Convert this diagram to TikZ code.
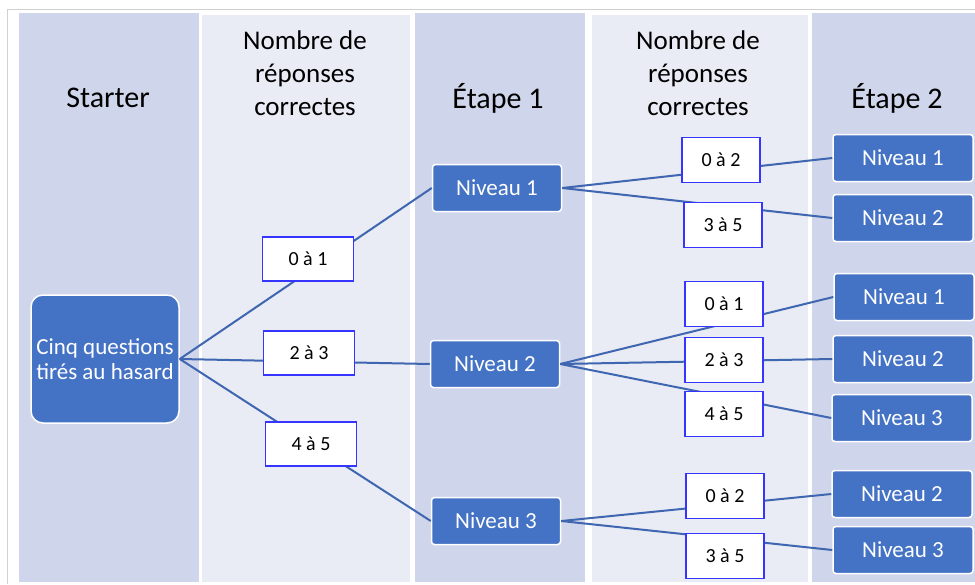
\documentclass[tikz,border=0pt]{standalone}
\usepackage{fontspec}
\setmainfont{Carlito}
\usetikzlibrary{positioning}
\definecolor{colDark}{HTML}{CFD5EA}
\definecolor{colLight}{HTML}{E9EBF5}
\definecolor{niveauBlue}{HTML}{4472C4}
\definecolor{lineBlue}{HTML}{3F66B1}
\definecolor{scoreBlue}{HTML}{3535FF}
\definecolor{frameGrey}{HTML}{D0D0D0}

\begin{document}
\begin{tikzpicture}[x=1pt,y=-1pt]
\tikzstyle{header}=[align=center, font=\fontsize{27}{33}\selectfont]
\tikzstyle{title}=[font=\fontsize{30}{36}\selectfont]
\tikzstyle{start}=[rectangle, rounded corners=12pt, fill=niveauBlue, draw=white, line width=1.5pt, text=white, align=center, minimum width=148pt, minimum height=128pt, inner sep=0pt, font=\fontsize{23}{25}\selectfont]
\tikzstyle{niveau}=[rectangle, rounded corners=3pt, fill=niveauBlue, draw=white, line width=1.5pt, text=white, minimum width=140pt, minimum height=47pt, inner sep=0pt, font=\fontsize{23}{25}\selectfont]
\tikzstyle{score}=[rectangle, fill=white, draw=scoreBlue, line width=1.5pt, minimum width=78pt, minimum height=45pt, inner sep=0pt, font=\fontsize{20}{22}\selectfont]
\tikzstyle{connect}=[lineBlue, line width=2pt]
  \useasboundingbox (0,0) rectangle (975,584);
  \fill[white] (0,0) rectangle (975,584);
  \draw[frameGrey, line width=1pt] (7.5,584) -- (7.5,9.5) -- (975,9.5);
  \fill[colDark] (19,13) rectangle (199,582);
  \fill[colLight] (202,15) rectangle (410,582);
  \fill[colDark] (415,13) rectangle (585,582);
  \fill[colLight] (592,15) rectangle (808,582);
  \fill[colDark] (812,13) rectangle (975,582);

  \node[title] (hStarter) at (108,98) {Starter};
  \node[header] (hNombreA) at (305,73) {Nombre de\\réponses\\correctes};
  \node[title] (hEtapeA) at (498,98) {Étape 1};
  \node[header] (hNombreB) at (698,73) {Nombre de\\réponses\\correctes};
  \node[title] (hEtapeB) at (897,98) {Étape 2};

  \node[start] (start) at (105,359) {Cinq questions\\tirés au hasard};

  \node[niveau, minimum width=129pt] (e1n1) at (497,188) {Niveau 1};
  \node[niveau, minimum width=129pt] (e1n2) at (495,364) {Niveau 2};
  \node[niveau, minimum width=129pt] (e1n3) at (496,521) {Niveau 3};

  \node[niveau] (e2n1a) at (903,158) {Niveau 1};
  \node[niveau] (e2n2a) at (903,218) {Niveau 2};
  \node[niveau] (e2n1b) at (904,297) {Niveau 1};
  \node[niveau] (e2n2b) at (903,359) {Niveau 2};
  \node[niveau] (e2n3b) at (902,418) {Niveau 3};
  \node[niveau] (e2n2c) at (902,494) {Niveau 2};
  \node[niveau] (e2n3c) at (903,550) {Niveau 3};

  \path (start.east) edge [connect] (e1n1.west)
        (start.east) edge [connect] (e1n2.west)
        (start.east) edge [connect] (e1n3.west)
        (e1n1.east) edge [connect] (e2n1a.west)
        (e1n1.east) edge [connect] (e2n2a.west)
        (e1n2.east) edge [connect] (e2n1b.west)
        (e1n2.east) edge [connect] (e2n2b.west)
        (e1n2.east) edge [connect] (e2n3b.west)
        (e1n3.east) edge [connect] (e2n2c.west)
        (e1n3.east) edge [connect] (e2n3c.west);

  \node[score, minimum width=91pt, minimum height=44pt] (sA01) at (308,259) {0 à 1};
  \node[score, minimum width=91pt, minimum height=44pt] (sA23) at (309,353) {2 à 3};
  \node[score, minimum width=91pt, minimum height=44pt] (sA45) at (311,444) {4 à 5};

  \node[score] (sB02) at (721,160) {0 à 2};
  \node[score] (sB35) at (723,225) {3 à 5};
  \node[score] (sC01) at (724,304) {0 à 1};
  \node[score] (sC23) at (724,360) {2 à 3};
  \node[score] (sC45) at (724,414) {4 à 5};
  \node[score] (sD02) at (725,496) {0 à 2};
  \node[score] (sD35) at (725,556) {3 à 5};
\end{tikzpicture}
\end{document}
